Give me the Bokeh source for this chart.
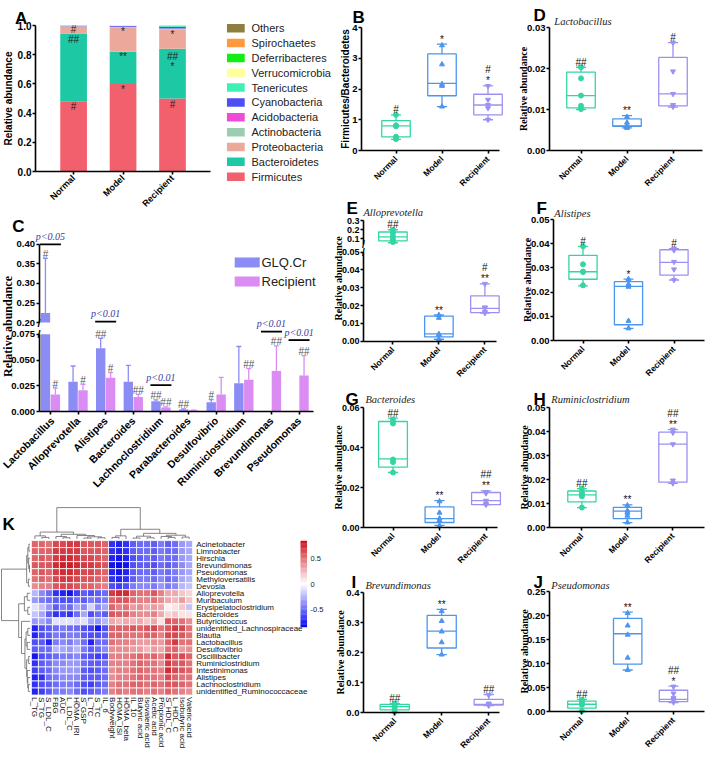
import numpy as np
from math import pi
from bokeh.plotting import figure
from bokeh.models import (Range1d, FixedTicker, Label, NumeralTickFormatter, LinearColorMapper,
                          ColumnDataSource, LinearAxis)
from bokeh.layouts import row, column
from bokeh.embed import file_html
from bokeh.resources import INLINE
from bokeh.core.properties import value

SANS = "Liberation Sans"
SERIF = "Liberation Serif"

# ---------------------------------------------------------------- data
groups = ["Normal", "Model", "Recipient"]
box_colors = ["#33D6A3", "#4C96EE", "#9C91F3"]
box_markers = ["circle", "triangle", "inverted_triangle"]

# Panel A : phylum composition
phyla = ["Firmicutes", "Bacteroidetes", "Proteobacteria", "Actinobacteria", "Acidobacteria",
         "Cyanobacteria", "Tenericutes", "Verrucomicrobia", "Deferribacteres", "Spirochaetes", "Others"]
phyla_colors = ["#F2606D", "#1DC9A4", "#EDA89C", "#9CCDB2", "#F04AD9", "#4E4EF2",
                "#3EF0B6", "#FFFF9E", "#12EE12", "#FF9A3C", "#8E7F3E"]
abund_normal = [0.482, 0.463, 0.048, 0.002, 0.0005, 0.001, 0.002, 0.0005, 0.0005, 0.0005, 0.0005]
abund_model = [0.600, 0.220, 0.168, 0.002, 0.001, 0.006, 0.002, 0.0005, 0.0005, 0.0005, 0.0]
abund_recipient = [0.500, 0.340, 0.135, 0.004, 0.001, 0.012, 0.005, 0.001, 0.0005, 0.0005, 0.001]
a_sig_group = [1, 1, 1, 2, 2, 2, 3, 3, 3, 3]
a_sig_y = [0.443, 0.906, 0.973, 0.56, 0.785, 0.96, 0.456, 0.79, 0.72, 0.94]
a_sig_text = ["#", "##", "#", "*", "**", "*", "#", "##", "*", "*"]

# Panel C : genera, GLQ.Cr vs Recipient
genera = ["Lactobacillus", "Alloprevotella", "Alistipes", "Bacteroides", "Lachnoclostridium",
          "Parabacteroides", "Desulfovibrio", "Ruminiclostridium", "Brevundimonas", "Pseudomonas"]
glq_mean = [0.2243, 0.029, 0.0616, 0.029, 0.0101, 0.0022, 0.0092, 0.0275, 0.0, 0.0]
glq_err = [0.364, 0.0443, 0.0711, 0.0449, 0.0114, 0.0028, 0.0117, 0.0632, 0.0, 0.0]
rec_mean = [0.0167, 0.0209, 0.0329, 0.0142, 0.0041, 0.0013, 0.0167, 0.031, 0.0395, 0.0351]
rec_err = [0.0228, 0.0265, 0.0379, 0.0167, 0.0047, 0.0016, 0.0332, 0.0417, 0.0638, 0.0544]
glq_sig = ["#", "", "##", "", "##", "##", "#", "", "", ""]
rec_sig = ["#", "#", "#", "##", "##", "", "", "##", "##", "##"]
p_idx = [0, 2, 4, 8, 9]
p_text = ["p<0.05", "p<0.01", "p<0.01", "p<0.01", "p<0.01"]
p_y = [0.400, 0.2025, 0.0257, 0.0776, 0.0694]

# Box panels
box_B = dict(lo=[0.36, 1.43, 1.00], q1=[0.44, 1.78, 1.16], med=[0.80, 2.18, 1.48],
             q3=[0.97, 3.14, 1.83], hi=[1.16, 3.46, 2.10],
             pts=[[0.37, 0.45, 0.79, 0.82, 1.16], [1.43, 2.10, 2.16, 2.80, 3.42], [1.00, 1.38, 1.48, 1.65, 2.10]],
             sig=[["#"], ["*"], ["*", "#"]])
box_D = dict(lo=[0.0100, 0.0055, 0.0106], q1=[0.0104, 0.0059, 0.0109], med=[0.0134, 0.0060, 0.0138],
             q3=[0.0191, 0.0077, 0.0227], hi=[0.0203, 0.0085, 0.0263],
             pts=[[0.0101, 0.0109, 0.0134, 0.0176, 0.0203], [0.0055, 0.0058, 0.0060, 0.0068, 0.0082],
                  [0.0107, 0.0111, 0.0138, 0.0193, 0.0263]],
             sig=[["##"], ["**"], ["#"]])
box_E = dict(lo=[0.055, 0.0011, 0.0158], q1=[0.077, 0.0024, 0.0160], med=[0.12, 0.0041, 0.0184],
             q3=[0.175, 0.0141, 0.0254], hi=[0.20, 0.0147, 0.0322],
             pts=[[0.063, 0.095, 0.128, 0.164, 0.20], [0.0011, 0.0035, 0.0040, 0.0131, 0.0147],
                  [0.0158, 0.0165, 0.0186, 0.0190, 0.0322]],
             sig=[["##"], ["**"], ["**", "#"]])
box_F = dict(lo=[0.0226, 0.0050, 0.0250], q1=[0.0253, 0.0065, 0.0270], med=[0.0284, 0.0224, 0.0323],
             q3=[0.0352, 0.0243, 0.0375], hi=[0.0389, 0.0254, 0.0380],
             pts=[[0.0228, 0.0283, 0.0285, 0.0315, 0.0389], [0.0050, 0.0081, 0.0222, 0.0233, 0.0254],
                  [0.0250, 0.0294, 0.0325, 0.0373, 0.0380]],
             sig=[["#"], ["*"], ["#"]])
box_G = dict(lo=[0.0275, 0.0011, 0.0114], q1=[0.0302, 0.0025, 0.0114], med=[0.0343, 0.0044, 0.0134],
             q3=[0.0530, 0.0103, 0.0175], hi=[0.0547, 0.0134, 0.0183],
             pts=[[0.0275, 0.0327, 0.0340, 0.0520, 0.0540], [0.0010, 0.0035, 0.0045, 0.0074, 0.0131],
                  [0.0114, 0.0118, 0.0134, 0.0171, 0.0178]],
             sig=[["##"], ["**"], ["**", "##"]])
box_H = dict(lo=[0.0083, 0.0020, 0.0184], q1=[0.0107, 0.0037, 0.0189], med=[0.0136, 0.0068, 0.0347],
             q3=[0.0152, 0.0084, 0.0397], hi=[0.0162, 0.0094, 0.0408],
             pts=[[0.0083, 0.0130, 0.0137, 0.0145, 0.0162], [0.0021, 0.0049, 0.0061, 0.0070, 0.0092],
                  [0.0184, 0.0196, 0.0347, 0.0395, 0.0408]],
             sig=[["##"], ["**"], ["**", "##"]])
box_I = dict(lo=[0.000, 0.193, 0.0228], q1=[0.0088, 0.215, 0.025], med=[0.0196, 0.271, 0.0274],
             q3=[0.0274, 0.324, 0.0436], hi=[0.030, 0.344, 0.060],
             pts=[[0.002, 0.015, 0.022, 0.027, 0.030], [0.193, 0.234, 0.270, 0.305, 0.338],
                  [0.023, 0.026, 0.028, 0.030, 0.058]],
             sig=[["##"], ["**"], ["##"]])
box_J = dict(lo=[0.000, 0.0865, 0.0184], q1=[0.007, 0.0988, 0.0204], med=[0.0151, 0.162, 0.0253],
             q3=[0.0218, 0.194, 0.0443], hi=[0.0253, 0.207, 0.053],
             pts=[[0.001, 0.014, 0.015, 0.020, 0.024], [0.0865, 0.112, 0.160, 0.179, 0.205],
                  [0.019, 0.024, 0.028, 0.0375, 0.052]],
             sig=[["##"], ["**"], ["*", "##"]])

# Panel K : correlation heatmap
k_rows = ["Acinetobacter", "Limnobacter", "Hirschia", "Brevundimonas", "Pseudomonas", "Methyloversatilis",
          "Devosia", "Alloprevotella", "Muribaculum", "Erysipelatoclostridium", "Bacteroides", "Butyricicoccus",
          "unidentified_Lachnospiraceae", "Blautia", "Lactobacillus", "Desulfovibrio", "Oscillibacter",
          "Ruminiclostridium", "Intestinimonas", "Alistipes", "Lachnoclostridium", "unidentified_Ruminococcaceae"]
k_cols = ["L_TG", "S_TG", "S_LDL_C", "FBG", "AUC", "L_LDL_C", "HOMA_IRI", "S_GSP", "L_TC", "S_TC", "IL_6",
          "Bodyweight", "HOMA_ISI", "HOMA_beta", "IL_10", "Butyric acid", "Isovaleric acid", "Acetic acid",
          "Propionic acid", "S_HDL_C", "L_HDL_C", "Isobutyric acid", "Valeric acid"]
k_matrix = [
    [0.55, 0.55, 0.5, 0.65, 0.65, 0.7, 0.7, 0.6, 0.6, 0.6, 0.55, -0.7, -0.75, -0.7, -0.55, -0.5, -0.5, -0.55, -0.45, -0.55, -0.5, -0.35, -0.3],
    [0.55, 0.55, 0.55, 0.7, 0.7, 0.7, 0.7, 0.6, 0.6, 0.6, 0.55, -0.7, -0.75, -0.7, -0.55, -0.5, -0.5, -0.55, -0.45, -0.5, -0.5, -0.35, -0.3],
    [0.55, 0.6, 0.55, 0.7, 0.75, 0.75, 0.7, 0.65, 0.65, 0.6, 0.55, -0.75, -0.8, -0.75, -0.6, -0.55, -0.5, -0.55, -0.45, -0.5, -0.5, -0.35, -0.3],
    [0.6, 0.6, 0.6, 0.75, 0.8, 0.8, 0.75, 0.7, 0.7, 0.65, 0.6, -0.8, -0.85, -0.8, -0.6, -0.55, -0.55, -0.6, -0.5, -0.55, -0.5, -0.4, -0.3],
    [0.55, 0.6, 0.55, 0.7, 0.75, 0.75, 0.7, 0.65, 0.65, 0.6, 0.55, -0.75, -0.8, -0.75, -0.55, -0.5, -0.5, -0.55, -0.45, -0.5, -0.45, -0.35, -0.3],
    [0.5, 0.55, 0.5, 0.65, 0.7, 0.7, 0.65, 0.6, 0.6, 0.55, 0.5, -0.7, -0.75, -0.7, -0.55, -0.45, -0.45, -0.5, -0.4, -0.5, -0.45, -0.3, -0.25],
    [0.4, 0.45, 0.45, 0.6, 0.65, 0.65, 0.6, 0.55, 0.55, 0.5, 0.45, -0.6, -0.65, -0.6, -0.45, -0.4, -0.4, -0.45, -0.35, -0.45, -0.4, -0.25, -0.2],
    [-0.25, -0.4, -0.5, -0.7, -0.75, -0.8, -0.65, -0.55, -0.6, -0.55, -0.5, 0.7, 0.75, 0.75, 0.55, 0.5, 0.5, 0.6, 0.45, 0.3, 0.3, 0.2, 0.15],
    [-0.35, -0.45, -0.5, -0.55, -0.6, -0.6, -0.5, -0.55, -0.45, -0.5, -0.45, 0.55, 0.6, 0.6, 0.5, 0.45, 0.45, 0.5, 0.4, 0.3, 0.25, 0.35, 0.2],
    [-0.1, -0.2, -0.35, -0.55, -0.45, -0.5, -0.3, -0.4, -0.15, -0.4, -0.3, 0.55, 0.45, 0.5, 0.35, 0.4, 0.3, 0.35, 0.3, 0.05, 0.1, 0.2, -0.2],
    [-0.2, -0.3, -0.55, -0.7, -0.65, -0.7, -0.5, -0.3, -0.6, -0.5, -0.55, 0.6, 0.55, 0.55, 0.45, 0.4, 0.4, 0.45, 0.3, 0.15, 0.2, 0.1, 0.1],
    [-0.35, -0.3, -0.4, -0.1, -0.1, -0.1, -0.15, -0.1, -0.3, -0.35, -0.25, 0.3, 0.25, 0.3, 0.25, 0.3, 0.2, 0.3, 0.1, 0.6, 0.55, 0.5, 0.4],
    [-0.75, -0.6, -0.55, -0.5, -0.45, -0.5, -0.5, -0.6, -0.65, -0.8, -0.6, 0.55, 0.55, 0.55, 0.6, 0.55, 0.6, 0.65, 0.5, 0.6, 0.7, 0.65, 0.5],
    [-0.75, -0.6, -0.55, -0.45, -0.5, -0.45, -0.45, -0.55, -0.6, -0.6, -0.55, 0.55, 0.55, 0.5, 0.5, 0.5, 0.55, 0.55, 0.45, 0.65, 0.65, 0.6, 0.5],
    [-0.6, -0.55, -0.75, -0.45, -0.4, -0.45, -0.35, -0.5, -0.75, -0.5, -0.5, 0.5, 0.45, 0.45, 0.4, 0.35, 0.35, 0.4, 0.35, 0.55, 0.7, 0.5, 0.5],
    [-0.55, -0.5, -0.5, -0.25, -0.3, -0.35, -0.25, -0.45, -0.55, -0.5, -0.4, 0.4, 0.4, 0.4, 0.35, 0.35, 0.25, 0.35, 0.3, 0.5, 0.55, 0.35, 0.4],
    [-0.8, -0.6, -0.55, -0.5, -0.45, -0.45, -0.4, -0.55, -0.6, -0.65, -0.6, 0.45, 0.45, 0.45, 0.5, 0.55, 0.5, 0.55, 0.45, 0.75, 0.6, 0.65, 0.55],
    [-0.7, -0.55, -0.5, -0.4, -0.4, -0.35, -0.35, -0.5, -0.55, -0.55, -0.5, 0.45, 0.45, 0.45, 0.5, 0.55, 0.5, 0.5, 0.4, 0.7, 0.6, 0.6, 0.5],
    [-0.65, -0.55, -0.5, -0.4, -0.35, -0.35, -0.35, -0.55, -0.6, -0.55, -0.5, 0.4, 0.45, 0.45, 0.5, 0.55, 0.5, 0.5, 0.45, 0.75, 0.65, 0.6, 0.55],
    [-0.75, -0.7, -0.5, -0.45, -0.4, -0.4, -0.4, -0.55, -0.55, -0.55, -0.5, 0.4, 0.45, 0.45, 0.5, 0.55, 0.5, 0.5, 0.45, 0.65, 0.55, 0.5, 0.5],
    [-0.7, -0.6, -0.55, -0.5, -0.45, -0.45, -0.5, -0.6, -0.65, -0.55, -0.5, 0.45, 0.5, 0.5, 0.55, 0.55, 0.5, 0.55, 0.5, 0.6, 0.6, 0.55, 0.5],
    [-0.75, -0.65, -0.55, -0.45, -0.45, -0.4, -0.5, -0.6, -0.55, -0.5, -0.45, 0.45, 0.5, 0.45, 0.5, 0.5, 0.45, 0.5, 0.45, 0.55, 0.5, 0.45, 0.4],
]
# dendrogram trees: [left, right, height]
col_tree = [[[0, [1, 2, 0.05], 0.10], [[3, [4, 5, 0.04], 0.08], [6, [[7, 8, 0.03], [9, 10, 0.04], 0.07], 0.11], 0.15], 0.22],
            [[[11, 12, 0.05], 13, 0.10], [[[14, 15, 0.03], [16, 17, 0.04], 0.09],
                                          [[18, [19, 20, 0.05], 0.08], [21, 22, 0.06], 0.12], 0.18], 0.31], 1.0]
row_tree = [[[[0, 1, 0.04], [2, [3, 4, 0.02], 0.05], 0.08], [5, 6, 0.06], 0.12],
            [[[7, 8, 0.10], [9, 10, 0.08], 0.20],
             [11, [[[12, 13, 0.08], [14, 15, 0.10], 0.14],
                   [[16, 17, 0.05], [18, [19, [20, 21, 0.06], 0.08], 0.10], 0.12], 0.18], 0.30], 0.40], 1.0]
cbar_ticks = [0.5, 0.0, -0.5]
cbar_labels = ["0.5", "0", "-0.5"]


# ---------------------------------------------------------------- helpers
class Pan:
    """Figure whose whole canvas is the frame; the 'inner' plot box is placed by pixel offsets."""

    def __init__(self, w, h, left, top, fw, fh, xr, yr):
        self.w, self.h = w, h
        self.left, self.top, self.fw, self.fh = left, top, fw, fh
        self.xr, self.yr = xr, yr
        self.sx = (xr[1] - xr[0]) / fw
        self.x0 = xr[0] - left * self.sx
        self.ranges = {}
        p = figure(width=w, height=h, x_range=Range1d(self.x0, self.x0 + w * self.sx),
                   y_range=Range1d(0, 1), output_backend="svg", toolbar_location=None,
                   x_axis_location=None, y_axis_location=None,
                   min_border_left=0, min_border_right=0, min_border_top=0, min_border_bottom=0)
        p.outline_line_color = None
        p.grid.visible = False
        p.background_fill_color = "white"
        p.border_fill_color = "white"
        self.p = p
        self.add_range("default", top, fh, yr)

    def add_range(self, name, top, fh, r):
        sy = (r[1] - r[0]) / fh
        y1 = r[1] + top * sy
        rng = Range1d(y1 - self.h * sy, y1)
        if name == "default":
            self.p.y_range = rng
        else:
            self.p.extra_y_ranges[name] = rng
        self.ranges[name] = (sy, y1, r)

    def X(self, lx):
        return self.x0 + lx * self.sx

    def Y(self, ly, rn="default"):
        sy, y1, _ = self.ranges[rn]
        return y1 - ly * sy

    def dxp(self, px):
        return px * self.sx

    def dyp(self, px, rn="default"):
        return px * self.ranges[rn][0]

    def label(self, lx, ly, text, **kw):
        self.p.add_layout(Label(x=self.X(lx), y=self.Y(ly), text=text, **kw))


def style_ax(ax, size, standoff):
    ax.axis_line_width = 1.6
    ax.axis_line_color = "black"
    ax.major_tick_line_width = 1.6
    ax.major_tick_out = 3
    ax.major_tick_in = 0
    ax.minor_tick_line_color = None
    ax.major_label_text_font = SANS
    ax.major_label_text_font_style = "bold"
    ax.major_label_text_font_size = size
    ax.major_label_text_color = "black"
    ax.major_label_standoff = standoff


def yaxis(P, ticks, bounds, fmt, size="9.5px", rn="default"):
    ax = LinearAxis(fixed_location=P.xr[0], y_range_name=rn, bounds=bounds,
                    ticker=FixedTicker(ticks=ticks), formatter=NumeralTickFormatter(format=fmt))
    style_ax(ax, size, 1)
    P.p.add_layout(ax, "left")


def xaxis(P, ticks, labels, size="8.5px", standoff=4):
    ax = LinearAxis(fixed_location=P.yr[0], bounds=P.xr, ticker=FixedTicker(ticks=ticks),
                    major_label_overrides={t: s for t, s in zip(ticks, labels)},
                    major_label_orientation=pi / 4)
    style_ax(ax, size, standoff)
    P.p.add_layout(ax, "below")


def ylabel(P, text, lx, ly, font=SERIF, size="10px"):
    P.label(lx, ly, text, angle=pi / 2, text_align="center", text_baseline="middle",
            text_font=font, text_font_style="bold", text_font_size=size, text_color="black")


def letter(P, ch, lx, ly_top):
    P.label(lx, ly_top + 12.5, ch, text_align="left", text_baseline="alphabetic",
            text_font=SANS, text_font_style="bold", text_font_size="17px", text_color="black")


def title(P, text, lx, ly):
    P.label(lx, ly, text, text_align="left", text_baseline="middle", text_font=SERIF,
            text_font_style="italic", text_font_size="10.5px", text_color="#222222")


def draw_boxes(P, box, rn=("default", "default", "default"), bw=0.31, cw=0.11):
    p = P.p
    for i in range(3):
        x = i + 1
        c = box_colors[i]
        lo, q1, md, q3, hi = (box[k][i] for k in ("lo", "q1", "med", "q3", "hi"))
        p.quad(left=[x - bw], right=[x + bw], bottom=[q1], top=[q3], fill_color=None,
               line_color=c, line_width=1.3, y_range_name=rn[i])
        p.segment(x0=[x - bw, x, x, x - cw, x - cw], y0=[md, q3, q1, hi, lo],
                  x1=[x + bw, x, x, x + cw, x + cw], y1=[md, hi, lo, hi, lo],
                  line_color=c, line_width=1.3, y_range_name=rn[i])
        pts = box["pts"][i]
        p.scatter(x=[x] * len(pts), y=pts, marker=box_markers[i], size=5,
                  fill_color=c, line_color=c, y_range_name=rn[i])
        for k, s in enumerate(box["sig"][i]):
            p.add_layout(Label(x=x, y=hi + P.dyp(5 + 11 * k, rn[i]), y_range_name=rn[i], text=s,
                               text_align="center", text_baseline="alphabetic", text_font=SANS,
                               text_font_size="10px", text_color="#111111"))


def box_panel(w, h, left, top, fw, fh, a, s, yr, yticks, fmt, box, tick_size="9.5px"):
    xr = (1 - a / s, 1 + (fw - a) / s)
    P = Pan(w, h, left, top, fw, fh, xr, yr)
    yaxis(P, yticks, (yticks[0], yticks[-1]), fmt, tick_size)
    xaxis(P, [1, 2, 3], groups)
    draw_boxes(P, box)
    return P


def blank(w, h):
    p = figure(width=w, height=h, x_range=Range1d(0, w), y_range=Range1d(0, h), output_backend="svg",
               toolbar_location=None, x_axis_location=None, y_axis_location=None,
               min_border_left=0, min_border_right=0, min_border_top=0, min_border_bottom=0)
    p.grid.visible = False
    p.outline_line_color = None
    return p


# ---------------------------------------------------------------- Panel A
PA = Pan(226, 210, 35, 25, 175, 146, (1 - 38.1 / 49.45, 1 + (175 - 38.1) / 49.45), (0, 1.0))
yaxis(PA, [0, 0.2, 0.4, 0.6, 0.8, 1.0], (0, 1.0), "0.0", "10px")
xaxis(PA, [1, 2, 3], groups, "9px", standoff=2)
srcA = {"x": [1, 2, 3]}
for k, name in enumerate(phyla):
    srcA[name] = [abund_normal[k], abund_model[k], abund_recipient[k]]
PA.p.vbar_stack(phyla, x="x", width=0.54, color=phyla_colors, line_color=None, source=srcA)
PA.p.text(x=a_sig_group, y=a_sig_y, text=a_sig_text, text_align="center", text_baseline="middle",
          text_font=value(SANS), text_font_size="10px", text_color="#222222")
ylabel(PA, "Relative abundance", 7.5, 25 + 73, font=SANS, size="10px")
letter(PA, "A", 14.5, 5)

AL = blank(106, 210)
leg_y = 210 - (27.7 + np.arange(len(phyla)) * 14.85)
AL.rect(x=[9.3] * len(phyla), y=leg_y, width=17.8, height=8.5, color=phyla_colors[::-1], line_color=None)
AL.text(x=[25] * len(phyla), y=leg_y, text=phyla[::-1], text_baseline="middle", text_align="left",
        text_font=value(SANS), text_font_size="11px", text_color="#222222")

# ---------------------------------------------------------------- Panel B, D
PB = box_panel(179, 195, 29, 27, 138, 123, 34.5, 46, (0, 4), [0, 1, 2, 3, 4], "0", box_B)
ylabel(PB, "Firmicutes/Bacteroidetes", 12.5, 27 + 61.5, font=SANS, size="10px")
letter(PB, "B", 20, 4)

PD = box_panel(194, 195, 38, 27, 153, 123, 31.5, 46, (0, 0.03), [0, 0.01, 0.02, 0.03], "0.00", box_D)
ylabel(PD, "Relative abundance", 11.5, 27 + 61.5)
letter(PD, "D", 22, 2)
title(PD, "Lactobacillus", 42.8, 21)

# ---------------------------------------------------------------- Panel C (broken axis)
cs = 27.63
PC = Pan(332, 288, 38.5, 123.8, 274.9, 77.4, (-11.4 / cs, -11.4 / cs + 274.9 / cs), (0, 0.075))
PC.add_range("top", 33.8, 78.3, (0.2, 0.4))
yaxis(PC, [0, 0.025, 0.05, 0.075], (0, 0.075), "0.000", "9.5px")
yaxis(PC, [0.20, 0.25, 0.30, 0.35, 0.40], (0.2, 0.4), "0.00", "9.5px", rn="top")
idx = np.arange(len(genera))
xaxis(PC, list(idx), genera, "10.5px", standoff=4)
c_glq, c_rec = "#8C8CF5", "#DA8CF2"
off, bwid, capw = 0.18, 0.34, 0.09
seg_b, seg_t = 0.075, 0.2
for xs, mean, err, col in ((idx - off, np.array(glq_mean), np.array(glq_err), c_glq),
                           (idx + off, np.array(rec_mean), np.array(rec_err), c_rec)):
    PC.p.vbar(x=xs, top=np.minimum(mean, seg_b), bottom=0, width=bwid, color=col, line_color=None)
    mt = mean > seg_t
    PC.p.vbar(x=xs[mt], top=mean[mt], bottom=seg_t, width=bwid, color=col, line_color=None,
              y_range_name="top")
    mb = (err > mean) & (mean <= seg_b)
    PC.p.segment(x0=xs[mb], y0=mean[mb], x1=xs[mb], y1=np.minimum(err[mb], seg_b), line_color=col,
                 line_width=1.3)
    mc = mb & (err <= seg_b)
    PC.p.segment(x0=xs[mc] - capw, y0=err[mc], x1=xs[mc] + capw, y1=err[mc], line_color=col, line_width=1.3)
    mtop = (err > mean) & (err >= seg_t)
    PC.p.segment(x0=xs[mtop], y0=np.maximum(mean[mtop], seg_t), x1=xs[mtop], y1=err[mtop], line_color=col,
                 line_width=1.3, y_range_name="top")
    PC.p.segment(x0=xs[mtop] - capw, y0=err[mtop], x1=xs[mtop] + capw, y1=err[mtop], line_color=col,
                 line_width=1.3, y_range_name="top")
for xs, err, sig in ((idx - off, glq_err, glq_sig), (idx + off, rec_err, rec_sig)):
    for x, e, s in zip(xs, err, sig):
        if not s:
            continue
        rn = "top" if e >= seg_t else "default"
        PC.p.add_layout(Label(x=x, y=e + PC.dyp(4, rn), y_range_name=rn, text=s, text_align="center",
                              text_baseline="alphabetic", text_font=SANS, text_font_size="10px",
                              text_color="#555555"))
for i, t, yv in zip(p_idx, p_text, p_y):
    rn = "top" if yv >= seg_t else "default"
    PC.p.segment(x0=[i - 0.38], y0=[yv], x1=[i + 0.38], y1=[yv], line_color="black", line_width=1.8,
                 y_range_name=rn)
    PC.p.add_layout(Label(x=i, y=yv + PC.dyp(2.5, rn), y_range_name=rn, text=t, text_align="center",
                          text_baseline="bottom", text_font=SERIF, text_font_style="italic",
                          text_font_size="10px", text_color="#3B3B9E"))
for k, (name, col) in enumerate((("GLQ.Cr", c_glq), ("Recipient", c_rec))):
    ly = 51.9 + k * 19.1
    PC.p.rect(x=[PC.X(246.7)], y=[PC.Y(ly)], width=25, height=10, width_units="screen",
              height_units="screen", color=col, line_color=None)
    PC.label(261, ly, name, text_align="left", text_baseline="middle", text_font=SANS,
             text_font_size="13px", text_color="#222222")
for rn, yv in (("top", 0.2), ("default", 0.075)):
    PC.p.add_layout(Label(x=PC.xr[0], y=yv, y_range_name=rn, text="/", text_align="center",
                          text_baseline="middle", text_font=SANS, text_font_size="11px",
                          text_font_style="bold", text_color="black"))
ylabel(PC, "Relative abundance", 7.5, 116, size="12px")
letter(PC, "C", 11.8, 3.4)

# ---------------------------------------------------------------- Panel E (broken axis)
PE = Pan(179, 187, 30.9, 56.6, 133.4, 89.1, (1 - 29.5 / 46, 1 + (133.4 - 29.5) / 46), (0, 0.05))
e_top_lo = 0.3 - 24 / 89.6
PE.add_range("top", 25.3, 24, (e_top_lo, 0.3))
yaxis(PE, [0, 0.01, 0.02, 0.03, 0.04, 0.05], (0, 0.05), "0.00", "9px")
yaxis(PE, [0.1, 0.2, 0.3], (e_top_lo, 0.3), "0.0", "9px", rn="top")
xaxis(PE, [1, 2, 3], groups)
draw_boxes(PE, box_E, rn=("top", "default", "default"))
for rn, yv in (("top", e_top_lo), ("default", 0.05)):
    PE.p.add_layout(Label(x=PE.xr[0], y=yv, y_range_name=rn, text="/", text_align="center",
                          text_baseline="middle", text_font=SANS, text_font_size="10px",
                          text_font_style="bold", text_color="black"))
ylabel(PE, "Relative abundance", 6, 83)
letter(PE, "E", 14, 0.8)
title(PE, "Alloprevotella", 30.9, 17.4)

# ---------------------------------------------------------------- Panels F-J
PF = box_panel(194, 187, 42, 24, 151, 121, 29.5, 45.5, (0, 0.05), [0, 0.01, 0.02, 0.03, 0.04, 0.05],
               "0.00", box_F)
ylabel(PF, "Relative abundance", 15.5, 24 + 60.5)
letter(PF, "F", 24.9, 0.8)
title(PF, "Alistipes", 42.8, 18.4)

PG = box_panel(179, 186, 31, 25, 134, 120, 29.5, 46.5, (0, 0.06), [0, 0.02, 0.04, 0.06], "0.00", box_G,
               tick_size="9px")
ylabel(PG, "Relative abundance", 6, 25 + 60)
letter(PG, "G", 13, 4.7)
title(PG, "Bacteroides", 32.9, 17.4)

PH = box_panel(194, 186, 38, 25, 155, 120, 32.4, 45.5, (0, 0.05), [0, 0.01, 0.02, 0.03, 0.04, 0.05],
               "0.00", box_H)
ylabel(PH, "Relative abundance", 12.6, 25 + 60)
letter(PH, "H", 22, 4.7)
title(PH, "Ruminiclostridium", 39.8, 17.4)

PI = box_panel(179, 185, 31, 24, 136, 120, 31.2, 47, (0, 0.4), [0, 0.1, 0.2, 0.3, 0.4], "0.0", box_I)
ylabel(PI, "Relative abundance", 8, 24 + 60)
letter(PI, "I", 19, 1.8)
title(PI, "Brevundimonas", 32.9, 16.5)

PJ = box_panel(194, 185, 38, 23, 155, 120, 32.4, 45.8, (0, 0.25), [0, 0.05, 0.10, 0.15, 0.20, 0.25],
               "0.00", box_J)
ylabel(PJ, "Relative abundance", 12.6, 23 + 60)
letter(PJ, "J", 22, 1.8)
title(PJ, "Pseudomonas", 39.8, 16.5)

# ---------------------------------------------------------------- Panel K (heatmap)
KH = 255
K = blank(332, KH)
pal = []
for t in np.linspace(0, 1, 101):
    if t < 0.5:
        f = t / 0.5
        c0, c1 = np.array([10, 10, 240]), np.array([255, 255, 255])
    else:
        f = (t - 0.5) / 0.5
        c0, c1 = np.array([255, 255, 255]), np.array([205, 20, 30])
    c = c0 + (c1 - c0) * f
    pal.append("#%02x%02x%02x" % tuple(int(round(v)) for v in c))
mapper = LinearColorMapper(palette=pal, low=-0.85, high=0.85)
hx0, hcw, hy0, hch = 30.9, 7.01, 42.1, 7.02
M = np.array(k_matrix)
nr, nc = M.shape
jj, ii = np.meshgrid(np.arange(nc), np.arange(nr))
srcK = ColumnDataSource(dict(x=hx0 + (jj.ravel() + 0.5) * hcw, y=KH - (hy0 + (ii.ravel() + 0.5) * hch),
                             v=M.ravel()))
K.rect(x="x", y="y", width=hcw, height=hch, source=srcK, fill_color={"field": "v", "transform": mapper},
       line_color="white", line_width=0.8)
K.text(x=[hx0 + nc * hcw + 3.6] * nr, y=KH - (hy0 + (np.arange(nr) + 0.5) * hch), text=k_rows,
       text_align="left", text_baseline="middle", text_font=value(SANS), text_font_size="8px",
       text_color="#111111")
K.text(x=hx0 + (np.arange(nc) + 0.5) * hcw, y=[KH - (hy0 + nr * hch + 2)] * nc, text=k_cols, angle=-pi / 2,
       text_align="left", text_baseline="middle", text_font=value(SANS), text_font_size="8px",
       text_color="#111111")


def walk(node, leafpos, segs):
    if isinstance(node, int):
        return leafpos(node), 0.0
    l, r, h = node
    lp, lh = walk(l, leafpos, segs)
    rp, rh = walk(r, leafpos, segs)
    segs += [(lp, lh, lp, h), (rp, rh, rp, h), (lp, h, rp, h)]
    return (lp + rp) / 2, h


segs = []
walk(col_tree, lambda j: hx0 + (j + 0.5) * hcw, segs)
cbase, cscale = 40.5, 31.4
K.segment(x0=[s[0] for s in segs], y0=[KH - (cbase - s[1] * cscale) for s in segs],
          x1=[s[2] for s in segs], y1=[KH - (cbase - s[3] * cscale) for s in segs],
          line_color="#666666", line_width=0.8)
segs = []
walk(row_tree, lambda i: hy0 + (i + 0.5) * hch, segs)
rbase, rscale = 29.6, 28.6
K.segment(x0=[rbase - s[1] * rscale for s in segs], y0=[KH - s[0] for s in segs],
          x1=[rbase - s[3] * rscale for s in segs], y1=[KH - s[2] for s in segs],
          line_color="#666666", line_width=0.8)
cb_top, cb_bot = 42.4, 128.6
cvals = np.linspace(0.85, -0.85, 69)
cstep = (cb_bot - cb_top) / len(cvals)
K.rect(x=[303.3] * len(cvals), y=KH - (cb_top + (np.arange(len(cvals)) + 0.5) * cstep), width=6.5,
       height=cstep + 0.3, fill_color=[pal[int(round((v + 0.85) / 1.7 * 100))] for v in cvals],
       line_color=None)
K.text(x=[310] * 3, y=[KH - (cb_top + (0.85 - v) / 1.7 * (cb_bot - cb_top)) for v in cbar_ticks],
       text=cbar_labels, text_align="left", text_baseline="middle", text_font=value(SANS),
       text_font_size="7.5px", text_color="#222222")
K.text(x=[1.9], y=[KH - 25.5], text=["K"], text_align="left", text_baseline="alphabetic",
       text_font=value(SANS), text_font_style="bold", text_font_size="17px", text_color="black")

# ---------------------------------------------------------------- layout
left_col = column(row(PA.p, AL), PC.p, K)
right_col = column(row(PB.p, PD.p), row(PE.p, PF.p), row(PG.p, PH.p), row(PI.p, PJ.p))
layout = row(left_col, right_col)
open("out.html", "w").write(file_html(layout, INLINE))
